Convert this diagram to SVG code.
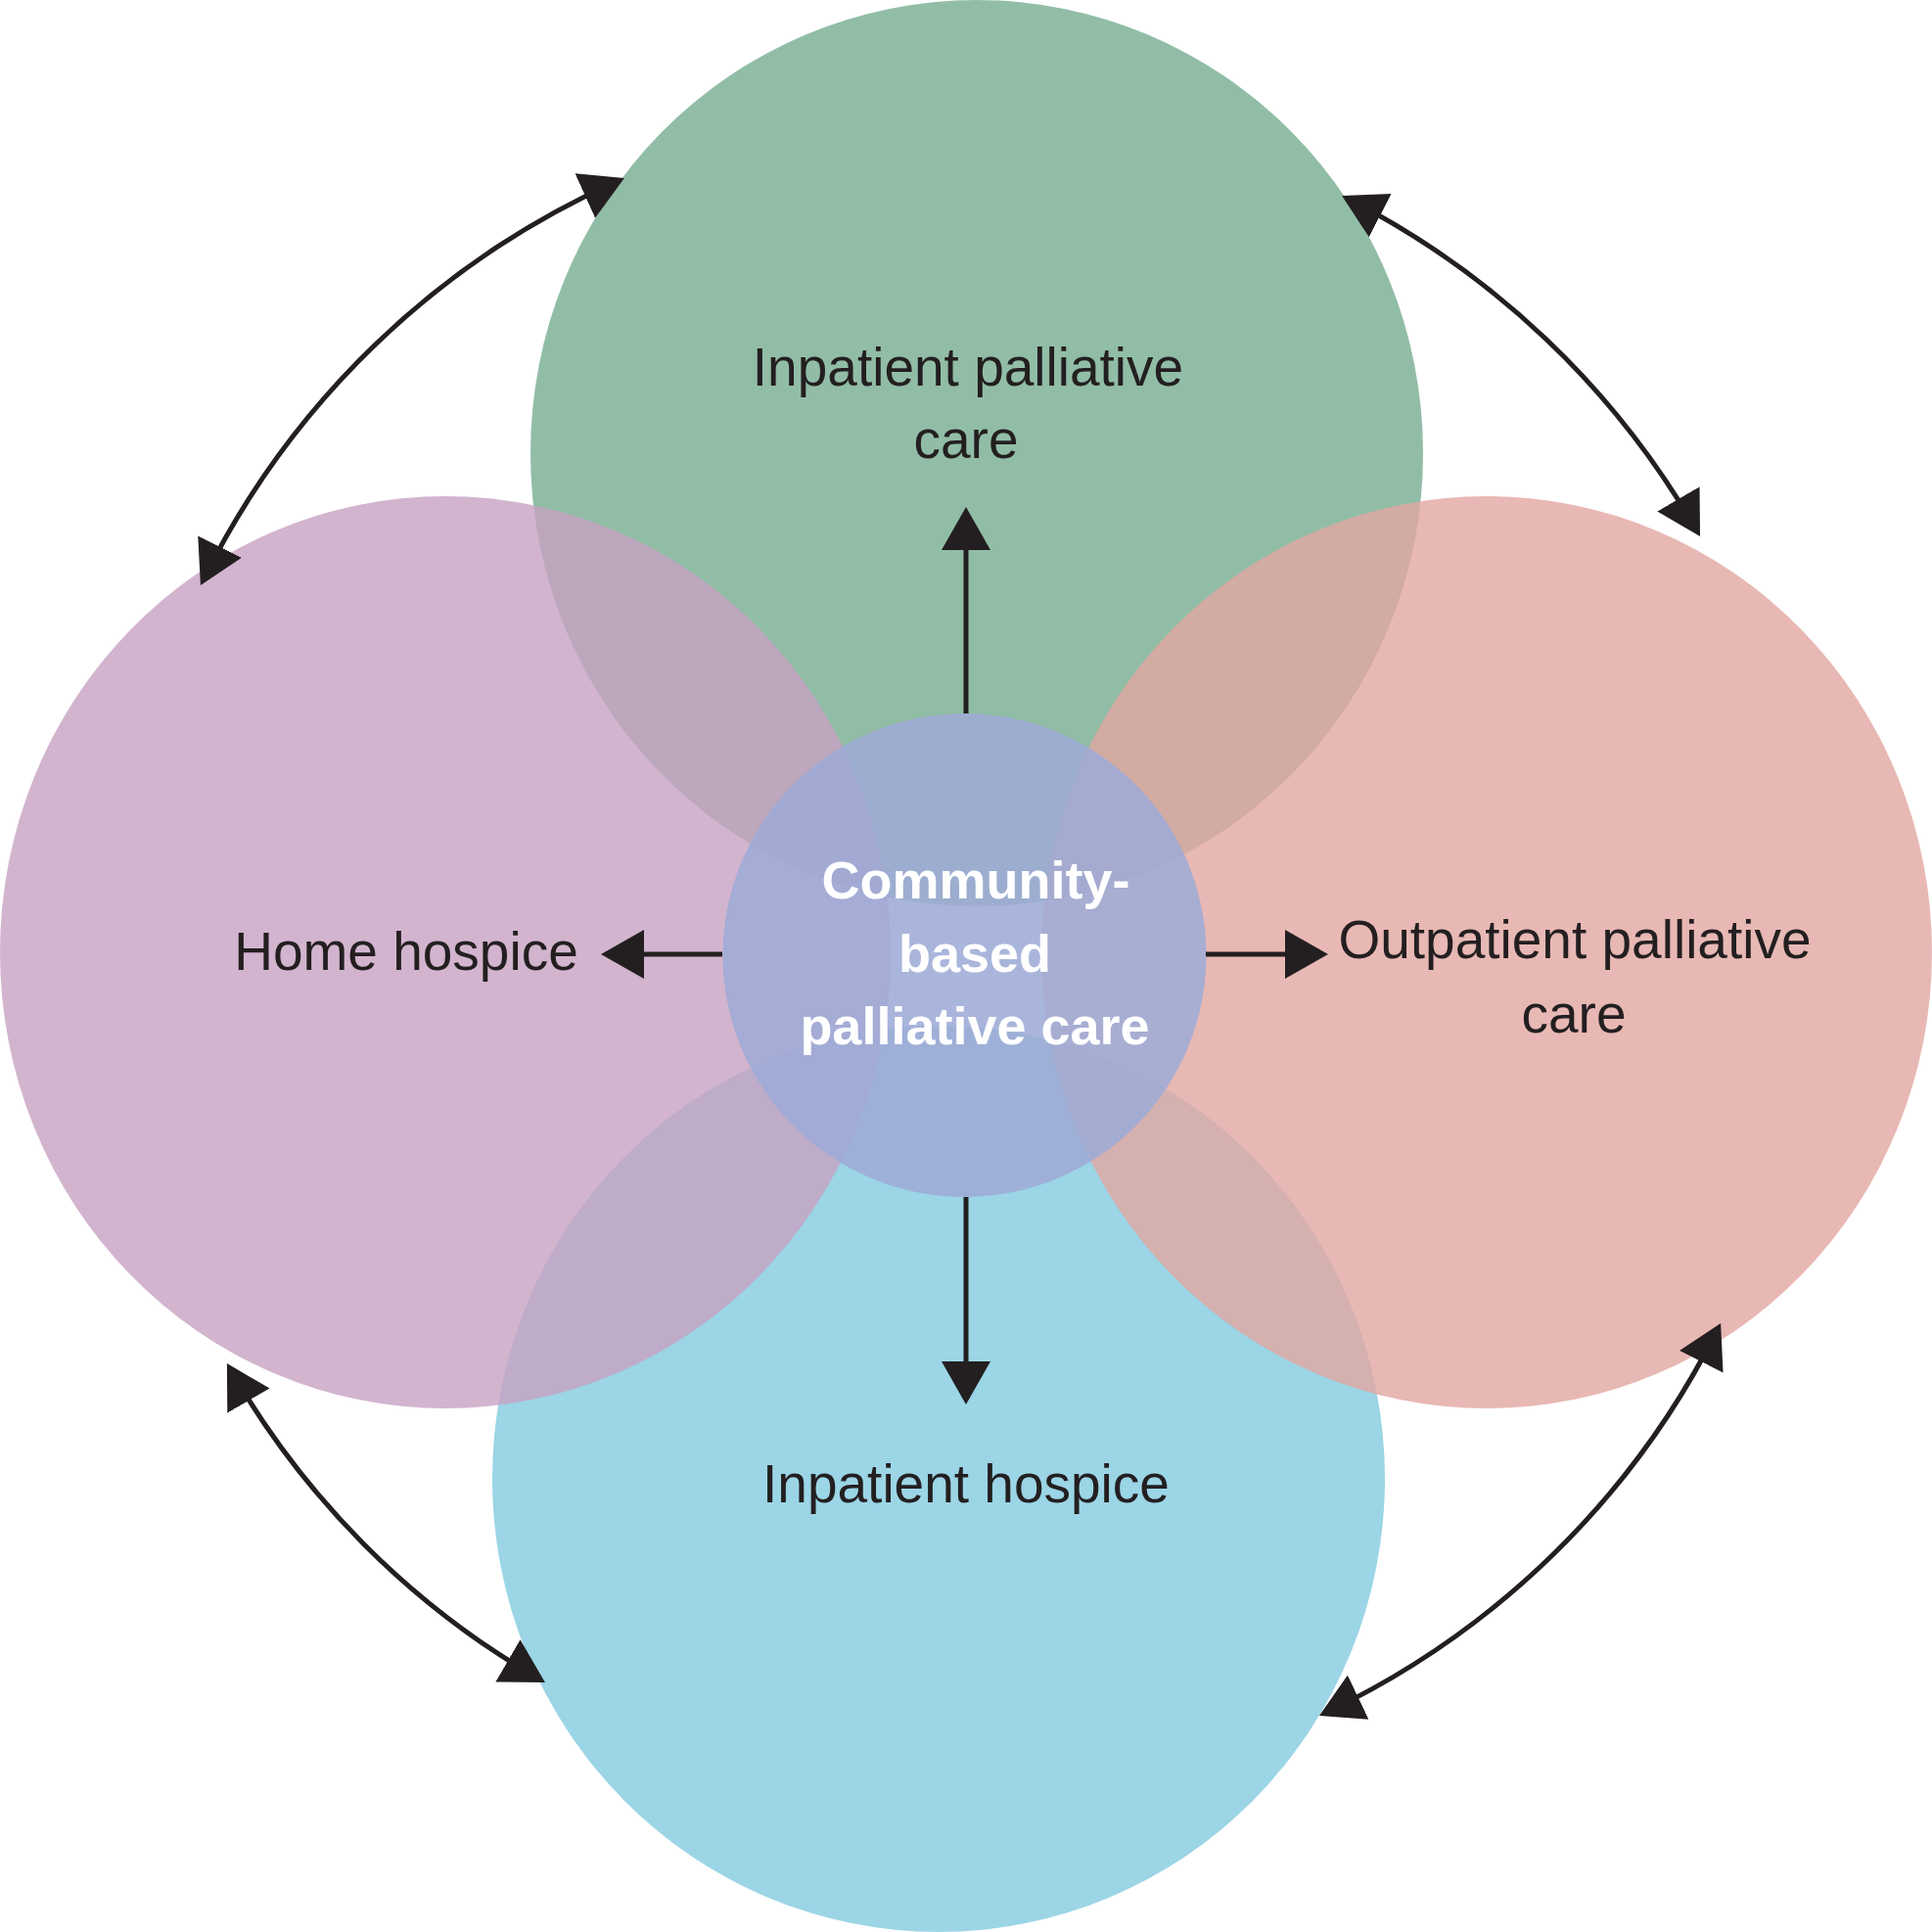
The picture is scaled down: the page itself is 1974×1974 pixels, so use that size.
<svg xmlns="http://www.w3.org/2000/svg" width="1974" height="1974" viewBox="0 0 1974 1974">
  <defs>
    <marker id="head" markerUnits="userSpaceOnUse" markerWidth="44" markerHeight="50" viewBox="0 0 44 50" refX="34" refY="25" orient="auto-start-reverse">
      <path d="M0,0 L44,25 L0,50 Z" fill="#231F20"/>
    </marker>
  </defs>
  <style>
    .lbl { font-family: "Liberation Sans", Arial, sans-serif; font-size: 55px; fill: #231F20; text-anchor: middle; }
    .ctr { font-family: "Liberation Sans", Arial, sans-serif; font-size: 54px; font-weight: bold; fill: #FFFFFF; text-anchor: middle; }
    .big { fill-opacity: 0.8; }
    .conn { fill: none; stroke: #231F20; stroke-width: 5; }
  </style>
  <rect width="1974" height="1974" fill="#FFFFFF"/>
  <g id="inpatient-palliative-care">
    <ellipse class="big" cx="998" cy="463" rx="456" ry="463" fill="#75AC90"/>
  </g>
  <g id="inpatient-hospice">
    <ellipse class="big" cx="959" cy="1511" rx="456" ry="463" fill="#82CAE0"/>
  </g>
  <g id="home-hospice">
    <ellipse class="big" cx="455" cy="973" rx="455" ry="466" fill="#C7A1C2"/>
  </g>
  <g id="outpatient-palliative-care">
    <ellipse class="big" cx="1519" cy="973" rx="455" ry="466" fill="#E2A6A1"/>
  </g>
  <g id="community-based-palliative-care">
    <circle cx="985.5" cy="976" r="247" fill="#9EABD6" fill-opacity="0.88"/>
  </g>
  <g id="connectors">
    <line class="conn" x1="987" y1="729" x2="987" y2="528" marker-end="url(#head)"/>
    <line class="conn" x1="987" y1="1223" x2="987" y2="1425" marker-end="url(#head)"/>
    <line class="conn" x1="738" y1="975" x2="624" y2="975" marker-end="url(#head)"/>
    <line class="conn" x1="1232" y1="975" x2="1347" y2="975" marker-end="url(#head)"/>
    <path class="conn" d="M209.4,589 A867,867 0 0 1 628.8,186" marker-start="url(#head)" marker-end="url(#head)"/>
    <path class="conn" d="M1380,204.5 A866,866 0 0 1 1732,539.3" marker-start="url(#head)" marker-end="url(#head)"/>
    <path class="conn" d="M1753.6,1361 A860,860 0 0 1 1357,1748.8" marker-start="url(#head)" marker-end="url(#head)"/>
    <path class="conn" d="M548.3,1714 A860,860 0 0 1 236.9,1401.7" marker-start="url(#head)" marker-end="url(#head)"/>
  </g>
  <g id="labels">
    <text class="lbl" x="989" y="394">Inpatient palliative</text>
    <text class="lbl" x="987" y="468">care</text>
    <text class="lbl" x="415" y="991">Home hospice</text>
    <text class="lbl" x="1609" y="979">Outpatient palliative</text>
    <text class="lbl" x="1608" y="1055">care</text>
    <text class="lbl" x="987" y="1535">Inpatient hospice</text>
    <text class="ctr" x="997" y="918">Community-</text>
    <text class="ctr" x="996" y="993">based</text>
    <text class="ctr" x="996" y="1067">palliative care</text>
  </g>
</svg>
